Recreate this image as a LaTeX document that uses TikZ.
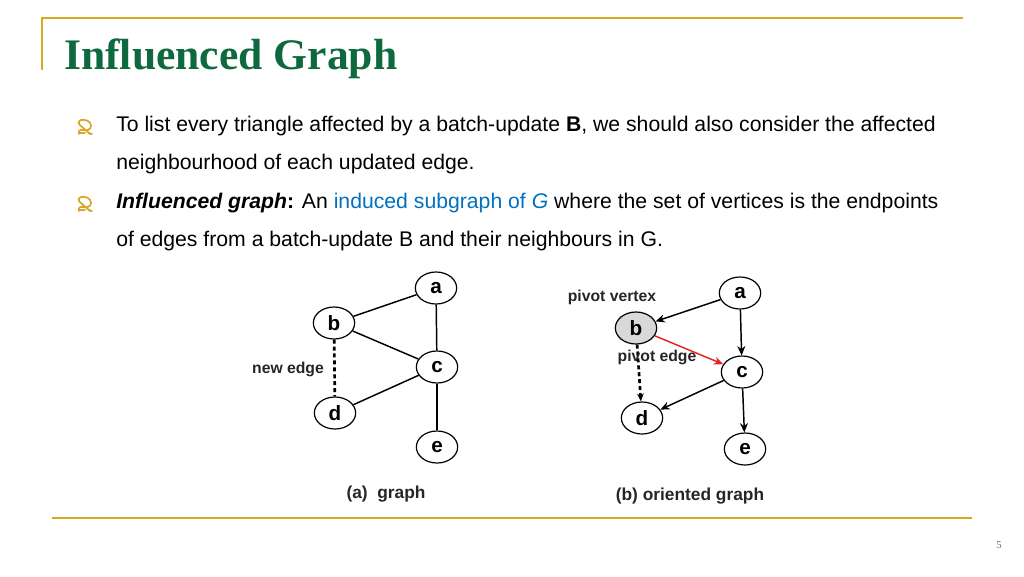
\documentclass[tikz,border=0pt]{standalone}
\usepackage{fontspec}
\setmainfont{Liberation Sans}
\newfontfamily\titlefont{Liberation Serif}
\usetikzlibrary{shapes.geometric,arrows.meta}
\definecolor{gold}{RGB}{214,168,38}
\definecolor{titlegreen}{RGB}{14,106,62}
\definecolor{linkblue}{RGB}{0,112,192}
\definecolor{pivred}{RGB}{226,36,36}
\definecolor{vgray}{RGB}{217,217,217}
\begin{document}
\begin{tikzpicture}[x=0.75pt,y=-0.75pt,
  vtx/.style={ellipse,draw,line width=0.9pt,minimum width=31pt,minimum height=24pt,inner sep=0pt,font=\fontsize{15.5}{15}\selectfont\bfseries},
  edge/.style={line width=1.1pt},
  newedge/.style={line width=2pt,dash pattern=on 3pt off 2.2pt},
  arr/.style={edge,-{Stealth[length=7pt,width=6pt]}},
  lbl/.style={font=\fontsize{11.8}{13}\selectfont\bfseries,text=black!85},
  captxt/.style={font=\fontsize{13}{14}\selectfont\bfseries,text=black!85},
  body/.style={anchor=base west,inner sep=0pt,font=\fontsize{15.9}{18}\selectfont},
  bullet/.style={draw=gold,line width=1.3pt,line cap=round}
]
\useasboundingbox (0,0) rectangle (1024,576);
% frame lines
\draw[gold,line width=1pt] (42,70) -- (42,18) -- (963,18);
\draw[gold,line width=1pt] (52,518) -- (972,518);
% title
\node[anchor=base west,inner sep=0pt,text=titlegreen,font=\titlefont\fontsize{32.7}{33}\selectfont\bfseries] (title) at (64,69) {Influenced Graph};
% bullets
\foreach \by/\nm in {127/b1,204/b2}{
  \coordinate (\nm) at (85,\by);
  \begin{scope}[shift={(85,\by)}]
    \draw[bullet] (-4,-7) .. controls (-7,-6) and (-7,-3) .. (-4,-1) -- (5,7);
    \draw[bullet] (-4,-7) .. controls (0,-8) and (6,-6) .. (6,-1) .. controls (6,3) and (1,4) .. (-2,3) .. controls (-6,2) and (-7,5) .. (-6,7);
    \draw[bullet] (-6,6) -- (0,6);
    \draw[bullet] (4,6) -- (7,7);
  \end{scope}
}
% body text
\node[body] (t1) at (116,131) {To list every triangle affected by a batch-update \textbf{B}, we should also consider the affected};
\node[body] (t2) at (116,169) {neighbourhood of each updated edge.};
\node[body] (t3) at (116,208) {\textbf{\itshape Influenced graph}\textbf{:} An \textcolor{linkblue}{induced subgraph of \textit{G}} where the set of vertices is the endpoints};
\node[body] (t4) at (116,246) {of edges from a batch-update B and their neighbours in G.};
% graph (a)
\node[vtx] (aa) at (436,288) {a};
\node[vtx] (ab) at (334,323) {b};
\node[vtx] (ac) at (437,367) {c};
\node[vtx] (ad) at (335,413) {d};
\node[vtx] (ae) at (437,447) {e};
\draw[edge] (ab) -- (aa);
\draw[edge] (ab) -- (ac);
\draw[edge] (aa) -- (ac);
\draw[edge] (ac) -- (ad);
\draw[edge] (ac) -- (ae);
\draw[newedge] (ab) -- (ad);
\node[lbl] (anew) at (288,369) {new edge};
\node[captxt] (acap) at (386,494) {(a)\ \ graph};
% graph (b)
\node[vtx] (ba) at (740,293) {a};
\node[vtx,fill=vgray] (bb) at (636,328) {b};
\node[vtx] (bc) at (742,372) {c};
\node[vtx] (bd) at (642,418) {d};
\node[vtx] (be) at (745,449) {e};
\draw[arr] (ba) -- (bb);
\draw[arr] (ba) -- (bc);
\draw[arr,pivred] (bb) -- (bc);
\draw[arr] (bc) -- (bd);
\draw[arr] (bc) -- (be);
\draw[newedge,-{Stealth[length=6pt,width=5pt]}] (bb) -- (bd);
\node[lbl] (bpv) at (612,297) {pivot vertex};
\node[lbl] (bpe) at (657,357) {pivot edge};
\node[captxt] (bcap) at (690,496) {(b) oriented graph};
% page number
\node[text=black!55,font=\titlefont\fontsize{8}{8}\selectfont] (pg) at (999,545) {5};
\end{tikzpicture}
\end{document}
